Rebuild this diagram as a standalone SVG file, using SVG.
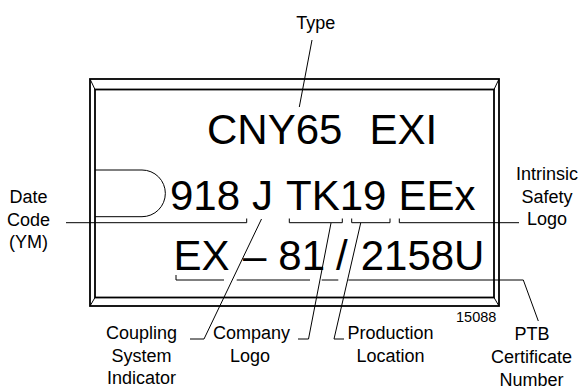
<svg xmlns="http://www.w3.org/2000/svg" width="580" height="390" viewBox="0 0 580 390">
<style>
.big{font-family:"Liberation Sans",Arial,sans-serif;font-size:42px;fill:#000}
.lbl{font-family:"Liberation Sans",Arial,sans-serif;font-size:18px;fill:#000;text-anchor:middle}
.num{font-family:"Liberation Sans",Arial,sans-serif;font-size:14.5px;fill:#000}
.frame{fill:none;stroke:#000;stroke-width:1.8}
.bevel{fill:none;stroke:#000;stroke-width:1}
.ld{fill:none;stroke:#000;stroke-width:1}
</style>
<rect width="580" height="390" fill="#fff"/>
<g id="plate">
<rect class="frame" x="90" y="79" width="409" height="227"/>
<rect class="frame" x="95" y="89.5" width="399" height="208"/>
<path class="bevel" d="M90,79 L95,89.5 M499,79 L494,89.5 M90,306 L95,297.5 M499,306 L494,297.5"/>
<path class="ld" d="M95,170 H142 A23.3,23.3 0 0 1 142,216.7 H95"/>
<text class="big" y="143.5"><tspan x="207">CNY65</tspan><tspan x="369.4">EXI</tspan></text>
<text class="big" y="209.5"><tspan x="170">918</tspan><tspan x="252">J</tspan><tspan x="286">TK19</tspan><tspan x="398.4">EEx</tspan></text>
<text class="big" y="269.5"><tspan x="173.4">EX</tspan><tspan x="243">–</tspan><tspan x="278.3">81</tspan><tspan x="336">/</tspan><tspan x="360.7">2158U</tspan></text>
<text class="num" x="456" y="322">15088</text>
</g>
<g id="connectors">
<path class="ld" d="M312,40 L299.3,107"/>
<path class="ld" d="M66,222.7 H246.7 V218.5"/>
<path class="ld" d="M261.5,219 L204,339 H190"/>
<path class="ld" d="M289.3,218.5 V222.7 H342.3 V218.5"/>
<path class="ld" d="M331,223 L308.5,339 H298"/>
<path class="ld" d="M351.7,218.5 V222.7 H390 V218.5"/>
<path class="ld" d="M360.7,223 L334,339 H344"/>
<path class="ld" d="M399.3,218.5 V222.7 H519"/>
<path class="ld" d="M176,275 V280 H224 M236.7,280 H310 M321.7,280 H338.3 M348.3,280 H523.3 L538.3,321"/>
</g>
<g id="label-type"><text class="lbl" x="315.7" y="29">Type</text></g>
<g id="label-date"><text class="lbl" x="28.5" y="203">Date</text><text class="lbl" x="28.5" y="225.5">Code</text><text class="lbl" x="28.5" y="248">(YM)</text></g>
<g id="label-intrinsic"><text class="lbl" x="547" y="180">Intrinsic</text><text class="lbl" x="547" y="202.5">Safety</text><text class="lbl" x="547" y="225">Logo</text></g>
<g id="label-coupling"><text class="lbl" x="141.5" y="339">Coupling</text><text class="lbl" x="141.5" y="361.7">System</text><text class="lbl" x="141.5" y="384.4">Indicator</text></g>
<g id="label-company"><text class="lbl" x="251.5" y="339">Company</text><text class="lbl" x="250" y="361.7">Logo</text></g>
<g id="label-production"><text class="lbl" x="390.5" y="339">Production</text><text class="lbl" x="390.5" y="361.7">Location</text></g>
<g id="label-ptb"><text class="lbl" x="532" y="339.5">PTB</text><text class="lbl" x="531.5" y="362.5">Certificate</text><text class="lbl" x="531.5" y="385.5">Number</text></g>
</svg>
